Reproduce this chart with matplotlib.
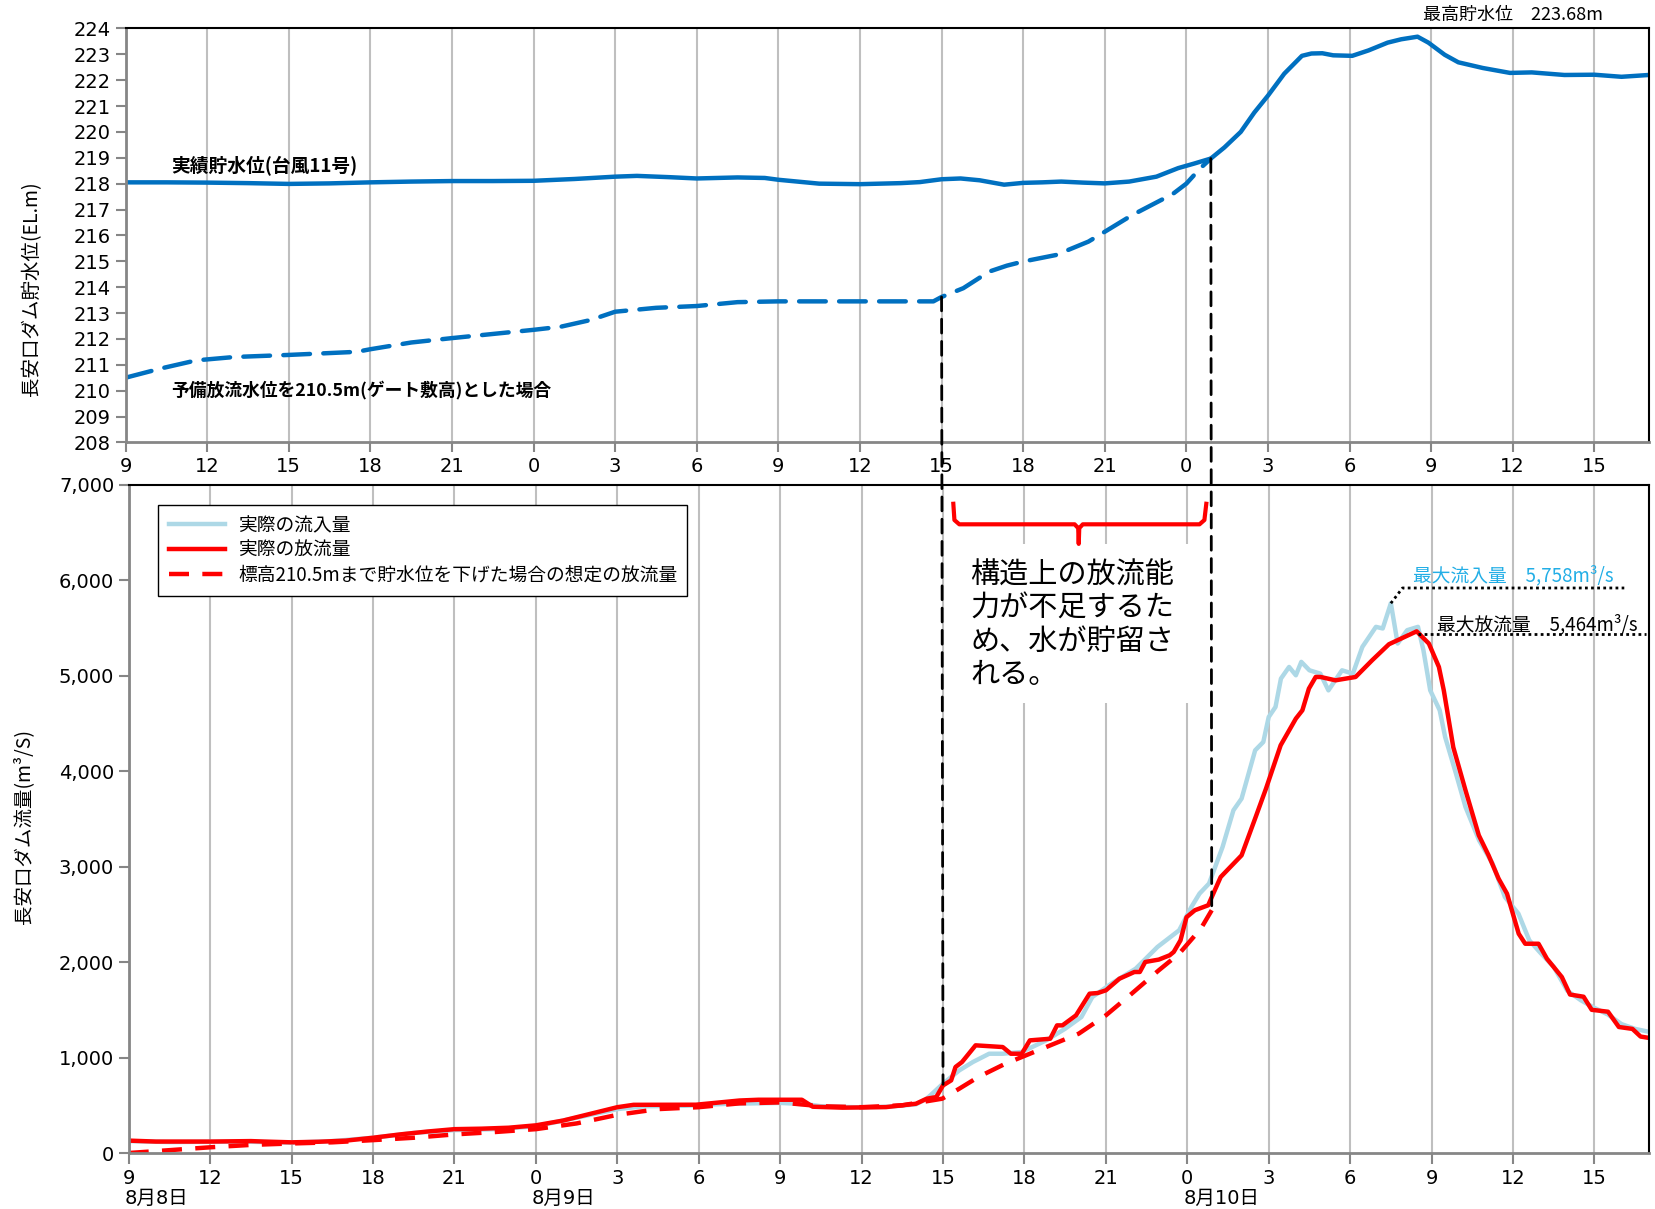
import matplotlib.pyplot as plt
from matplotlib.patches import ConnectionPatch, Rectangle
from matplotlib import font_manager

plt.rcParams['font.family'] = ['Noto Sans CJK JP', 'DejaVu Sans']

installed = {f.name for f in font_manager.fontManager.ttflist}
NARROW = 'Liberation Sans Narrow' if 'Liberation Sans Narrow' in installed else 'DejaVu Sans'

# time axis: hours elapsed since 8/8 9:00
hour_ticks = list(range(0, 57, 3))
hour_labels = ['9', '12', '15', '18', '21', '0', '3', '6', '9', '12', '15',
               '18', '21', '0', '3', '6', '9', '12', '15']
day_labels = ['8月8日', '8月9日', '8月10日']
day_hours = [0, 15, 39]

level_ticks = list(range(208, 225))
flow_ticks = [0, 1000, 2000, 3000, 4000, 5000, 6000, 7000]
flow_tick_labels = ['0', '1,000', '2,000', '3,000', '4,000', '5,000', '6,000', '7,000']

# actual reservoir level (typhoon No.11)
level_t = [0, 1.5, 3, 4.5, 6, 7.5, 9, 10.5, 12, 13.5, 15, 16.5, 18, 18.8, 20, 21,
           22.5, 23.5, 24, 25.5, 27, 28.5, 29.2, 30, 30.7, 31.4, 32.3, 33, 33.7,
           34.4, 35.2, 36, 36.9, 37.9, 38.7, 39.3, 39.9, 40.4, 41, 41.5, 42, 42.6,
           43.25, 43.6, 44, 44.4, 45.1, 45.7, 46.4, 46.9, 47.5, 47.9, 48.5, 49,
           49.9, 50.9, 51.7, 52.9, 54, 55, 56]
level_v = [218.05, 218.05, 218.04, 218.02, 217.99, 218.01, 218.05, 218.08, 218.1,
           218.1, 218.11, 218.18, 218.27, 218.3, 218.25, 218.2, 218.24, 218.22,
           218.15, 218.0, 217.98, 218.02, 218.06, 218.17, 218.2, 218.13, 217.96,
           218.03, 218.05, 218.08, 218.04, 218.01, 218.08, 218.27, 218.6, 218.78,
           218.97, 219.4, 220.0, 220.75, 221.4, 222.25, 222.94, 223.03, 223.04,
           222.96, 222.94, 223.15, 223.45, 223.58, 223.68, 223.45, 222.98, 222.69,
           222.47, 222.28, 222.3, 222.2, 222.21, 222.13, 222.2]

# reservoir level if pre-release had lowered it to 210.5m
lowered_t = [0, 1.35, 2.6, 4, 6, 8.5, 9, 10.5, 12, 15, 16, 17.1, 18, 19.5, 21, 22.5,
             24, 27, 29.7, 30, 30.8, 31.75, 32.4, 33, 34.2, 35.4, 36, 37, 38.5, 39,
             39.5, 39.9]
lowered_v = [210.5, 210.87, 211.17, 211.3, 211.38, 211.5, 211.6, 211.86, 212.03,
             212.35, 212.47, 212.73, 213.05, 213.2, 213.27, 213.42, 213.45, 213.45,
             213.45, 213.62, 213.96, 214.6, 214.83, 214.99, 215.24, 215.76, 216.14,
             216.78, 217.6, 218.0, 218.58, 218.97]

# actual inflow (m3/s)
inflow_t = [0, 1.5, 3, 4.5, 6, 7.5, 9, 10.5, 12, 13.5, 15, 16.5, 18, 19, 20.5, 22, 23,
            24, 25, 25.5, 27, 28, 29, 29.4, 30, 30.6, 31.1, 31.7, 32.2, 32.9, 33.8,
            34.5, 35.1, 35.5, 36.2, 37.1, 37.9, 38.7, 39.15, 39.45, 39.8, 40.3, 40.7,
            41.0, 41.5, 41.8, 42.0, 42.25, 42.45, 42.75, 43.0, 43.2, 43.5, 43.9, 44.2,
            44.7, 45.1, 45.45, 45.95, 46.2, 46.5, 46.75, 47.1, 47.5, 47.7, 47.95,
            48.3, 48.5, 48.9, 49.25, 49.75, 50.25, 50.7, 51.2, 51.6, 52.0, 52.5, 53,
            53.5, 54, 54.5, 55, 55.5, 56]
inflow_v = [125, 115, 118, 118, 108, 125, 160, 210, 240, 250, 280, 370, 460, 490, 495,
            515, 520, 525, 510, 490, 478, 485, 510, 569, 726, 866, 953, 1040, 1040,
            1058, 1180, 1302, 1425, 1634, 1774, 1931, 2158, 2333, 2577, 2717, 2822,
            3206, 3590, 3712, 4218, 4305, 4567, 4672, 4969, 5091, 5004, 5144, 5056,
            5021, 4846, 5056, 5021, 5301, 5511, 5494, 5758, 5336, 5476, 5511, 5266,
            4846, 4637, 4357, 3973, 3624, 3275, 3030, 2682, 2507, 2228, 2100, 1950,
            1700, 1600, 1520, 1450, 1350, 1300, 1270]

# actual outflow (m3/s)
outflow_t = [0, 1, 3, 4.5, 5, 6, 7, 8, 9, 10, 11, 12, 13, 14, 15, 16, 17, 18, 18.6,
             20.9, 22.5, 23.2, 24.8, 25.2, 26.3, 27.9, 29, 29.4, 29.75, 30, 30.3,
             30.46, 30.7, 31.2, 32.2, 32.5, 32.9, 33.2, 33.95, 34.2, 34.4, 34.9, 35.4,
             35.7, 36.0, 36.5, 37.05, 37.25, 37.45, 37.95, 38.35, 38.5, 38.75, 38.97,
             39.28, 39.77, 39.9, 40.23, 41.0, 41.52, 41.9, 42.44, 43.0, 43.24, 43.48,
             43.73, 43.91, 44.46, 45.2, 45.81, 46.43, 47.45, 47.9, 48.27, 48.45, 48.8,
             49.25, 49.74, 50.1, 50.47, 50.78, 51.21, 51.45, 51.94, 52.25, 52.5, 52.8,
             53.1, 53.6, 53.9, 54.5, 54.9, 55.4, 55.7, 56]
outflow_v = [130, 120, 120, 125, 120, 112, 118, 130, 160, 195, 225, 250, 255, 265, 290,
             340, 410, 480, 505, 506, 550, 558, 558, 485, 475, 481, 516, 569, 586, 708,
             761, 901, 953, 1128, 1110, 1040, 1040, 1180, 1197, 1337, 1337, 1442, 1669,
             1676, 1704, 1826, 1896, 1896, 2001, 2026, 2071, 2106, 2228, 2470, 2543,
             2595, 2680, 2891, 3118, 3520, 3817, 4271, 4550, 4637, 4864, 4986, 4986,
             4951, 4986, 5161, 5329, 5464, 5336, 5091, 4846, 4250, 3799, 3328, 3118,
             2873, 2716, 2297, 2192, 2192, 2035, 1948, 1843, 1660, 1637, 1500, 1480,
             1320, 1300, 1220, 1206]

# assumed outflow with level lowered to 210.5m
assumed_t = [0, 1.5, 3, 4.5, 6, 7.5, 9, 10.5, 12, 13.5, 15, 16.5, 18, 19.5, 21, 22.5, 24,
             25.5, 27, 28.5, 29.97, 30.6, 31.3, 32.3, 32.9, 33.8, 35, 36, 36.95, 37.95,
             38.7, 39.5, 39.9]
assumed_v = [0, 30, 60, 85, 100, 112, 135, 160, 195, 220, 250, 310, 400, 460, 480, 520,
             530, 490, 480, 500, 569, 674, 796, 936, 1005, 1110, 1250, 1442, 1669, 1914,
             2088, 2350, 2543]

peak_inflow = 5758
peak_outflow = 5464
peak_level = 223.68

BLUE = '#0070C0'
LIGHT = '#ADD8E6'
RED = '#FF0000'
GRID = '#BFBFBF'
SPINE = '#868686'

fig = plt.figure(figsize=(16.55, 12.09), dpi=100)
ax1 = fig.add_axes([0.0759, 0.6341, 0.9203, 0.3424])
ax2 = fig.add_axes([0.0778, 0.0463, 0.9184, 0.5528])

for ax in (ax1, ax2):
    ax.set_xlim(0, 56)
    ax.set_xticks(hour_ticks)
    ax.set_xticklabels(hour_labels)
    ax.grid(axis='x', color=GRID, linewidth=1.5)
    ax.set_axisbelow(True)
    for side in ('top', 'right'):
        ax.spines[side].set_color('black')
        ax.spines[side].set_linewidth(1.5)
    for side in ('left', 'bottom'):
        ax.spines[side].set_color(SPINE)
        ax.spines[side].set_linewidth(2)
    ax.tick_params(axis='both', direction='out', color=SPINE, width=1.5, length=7,
                   labelsize=14)

# upper panel: reservoir level
ax1.set_ylim(208, 224)
ax1.set_yticks(level_ticks)
ax1.set_yticklabels([str(v) for v in level_ticks], family='DejaVu Sans')
for lab in ax1.get_xticklabels():
    lab.set_family('DejaVu Sans')
ax1.plot(level_t, level_v, color=BLUE, lw=3.2, solid_capstyle='round')
ax1.plot(lowered_t, lowered_v, color=BLUE, lw=3.2, dashes=(6, 3), dash_capstyle='round')
ax1.text(1.67, 218.69, '実績貯水位(台風11号)', fontsize=13.5, fontweight='bold', va='center')
ax1.text(1.67, 210.04, '予備放流水位を210.5m(ゲート敷高)とした場合', fontsize=12.8,
         fontweight='bold', va='center')
fig.text(0.0191, 0.7616, '長安口ダム貯水位(EL.m)', rotation=90, ha='center', va='center',
         fontsize=14)
fig.text(0.8597, 0.9878, '最高貯水位　%.2fm' % peak_level, fontsize=13, va='center')

# lower panel: discharge
ax2.set_ylim(0, 7000)
ax2.set_yticks(flow_ticks)
ax2.set_yticklabels(flow_tick_labels, family='DejaVu Sans')
for lab in ax2.get_xticklabels():
    lab.set_family([NARROW, 'DejaVu Sans'])
ax2.tick_params(axis='x', length=8)
ax2.plot(inflow_t, inflow_v, color=LIGHT, lw=3.2, label='実際の流入量')
ax2.plot(outflow_t, outflow_v, color=RED, lw=3.2, label='実際の放流量')
ax2.plot(assumed_t, assumed_v, color=RED, lw=3.2, dashes=(4.5, 3),
         label='標高210.5mまで貯水位を下げた場合の想定の放流量')
leg = ax2.legend(loc='upper left', bbox_to_anchor=(0.0194, 0.970), borderaxespad=0,
                 fontsize=13.5, handlelength=3.0, handletextpad=0.7, labelspacing=0.2,
                 fancybox=False, framealpha=1, borderpad=0.55)
leg.get_frame().set_edgecolor('black')
leg.get_frame().set_linewidth(1.0)

for h, lab in zip(day_hours, day_labels):
    ax2.text(h - 0.15, -0.068, lab, transform=ax2.get_xaxis_transform(), ha='left',
             va='center', fontsize=14, family=[NARROW, 'Noto Sans CJK JP'])
fig.text(0.014, 0.316, '長安口ダム流量(m³/S)', rotation=90, ha='center', va='center',
         fontsize=14)

# note box and brace over the period of insufficient release capacity
ax2.add_patch(Rectangle((30.18, 4712), 9.32, 1671, facecolor='white', edgecolor='none',
                        zorder=1.5))
ax2.text(31.0, 6200, '構造上の放流能\n力が不足するた\nめ、水が貯留さ\nれる。', fontsize=21,
         va='top', ha='left', linespacing=1.13, zorder=3)
brace_t = [30.38, 30.42, 30.6, 34.85, 34.98, 35.0, 35.02, 35.15, 39.45, 39.63, 39.7]
brace_v = [6800, 6630, 6585, 6585, 6545, 6380, 6545, 6585, 6585, 6630, 6800]
ax2.plot(brace_t, brace_v, color=RED, lw=3, solid_joinstyle='round', zorder=3)

# peak annotations
ax2.plot([46.5, 46.93, 55.1], [peak_inflow, 5918, 5918], color='black', lw=2,
         linestyle=(0, (1, 1.2)), zorder=4)
ax2.text(47.3, 5935, '最大流入量　5,758m³/s', color='#22AEE6', fontsize=13.5,
         va='bottom', ha='left', zorder=4)
ax2.plot([47.5, 55.9], [5431, 5431], color='black', lw=2, linestyle=(0, (1, 1.2)),
         zorder=4)
ax2.text(48.2, 5420, '最大放流量　5,464m³/s', color='black', fontsize=13.5,
         va='bottom', ha='left', zorder=4)

# dashed markers spanning both panels
for t0, top_v, bot_v in [(30.0, 213.62, 720), (39.9, 218.97, 2550)]:
    con = ConnectionPatch(xyA=(t0, top_v), coordsA=ax1.transData,
                          xyB=(t0, bot_v), coordsB=ax2.transData,
                          color='black', lw=2, linestyle=(0, (5, 3)), zorder=5)
    fig.add_artist(con)

fig.savefig('out.png', dpi=100)
